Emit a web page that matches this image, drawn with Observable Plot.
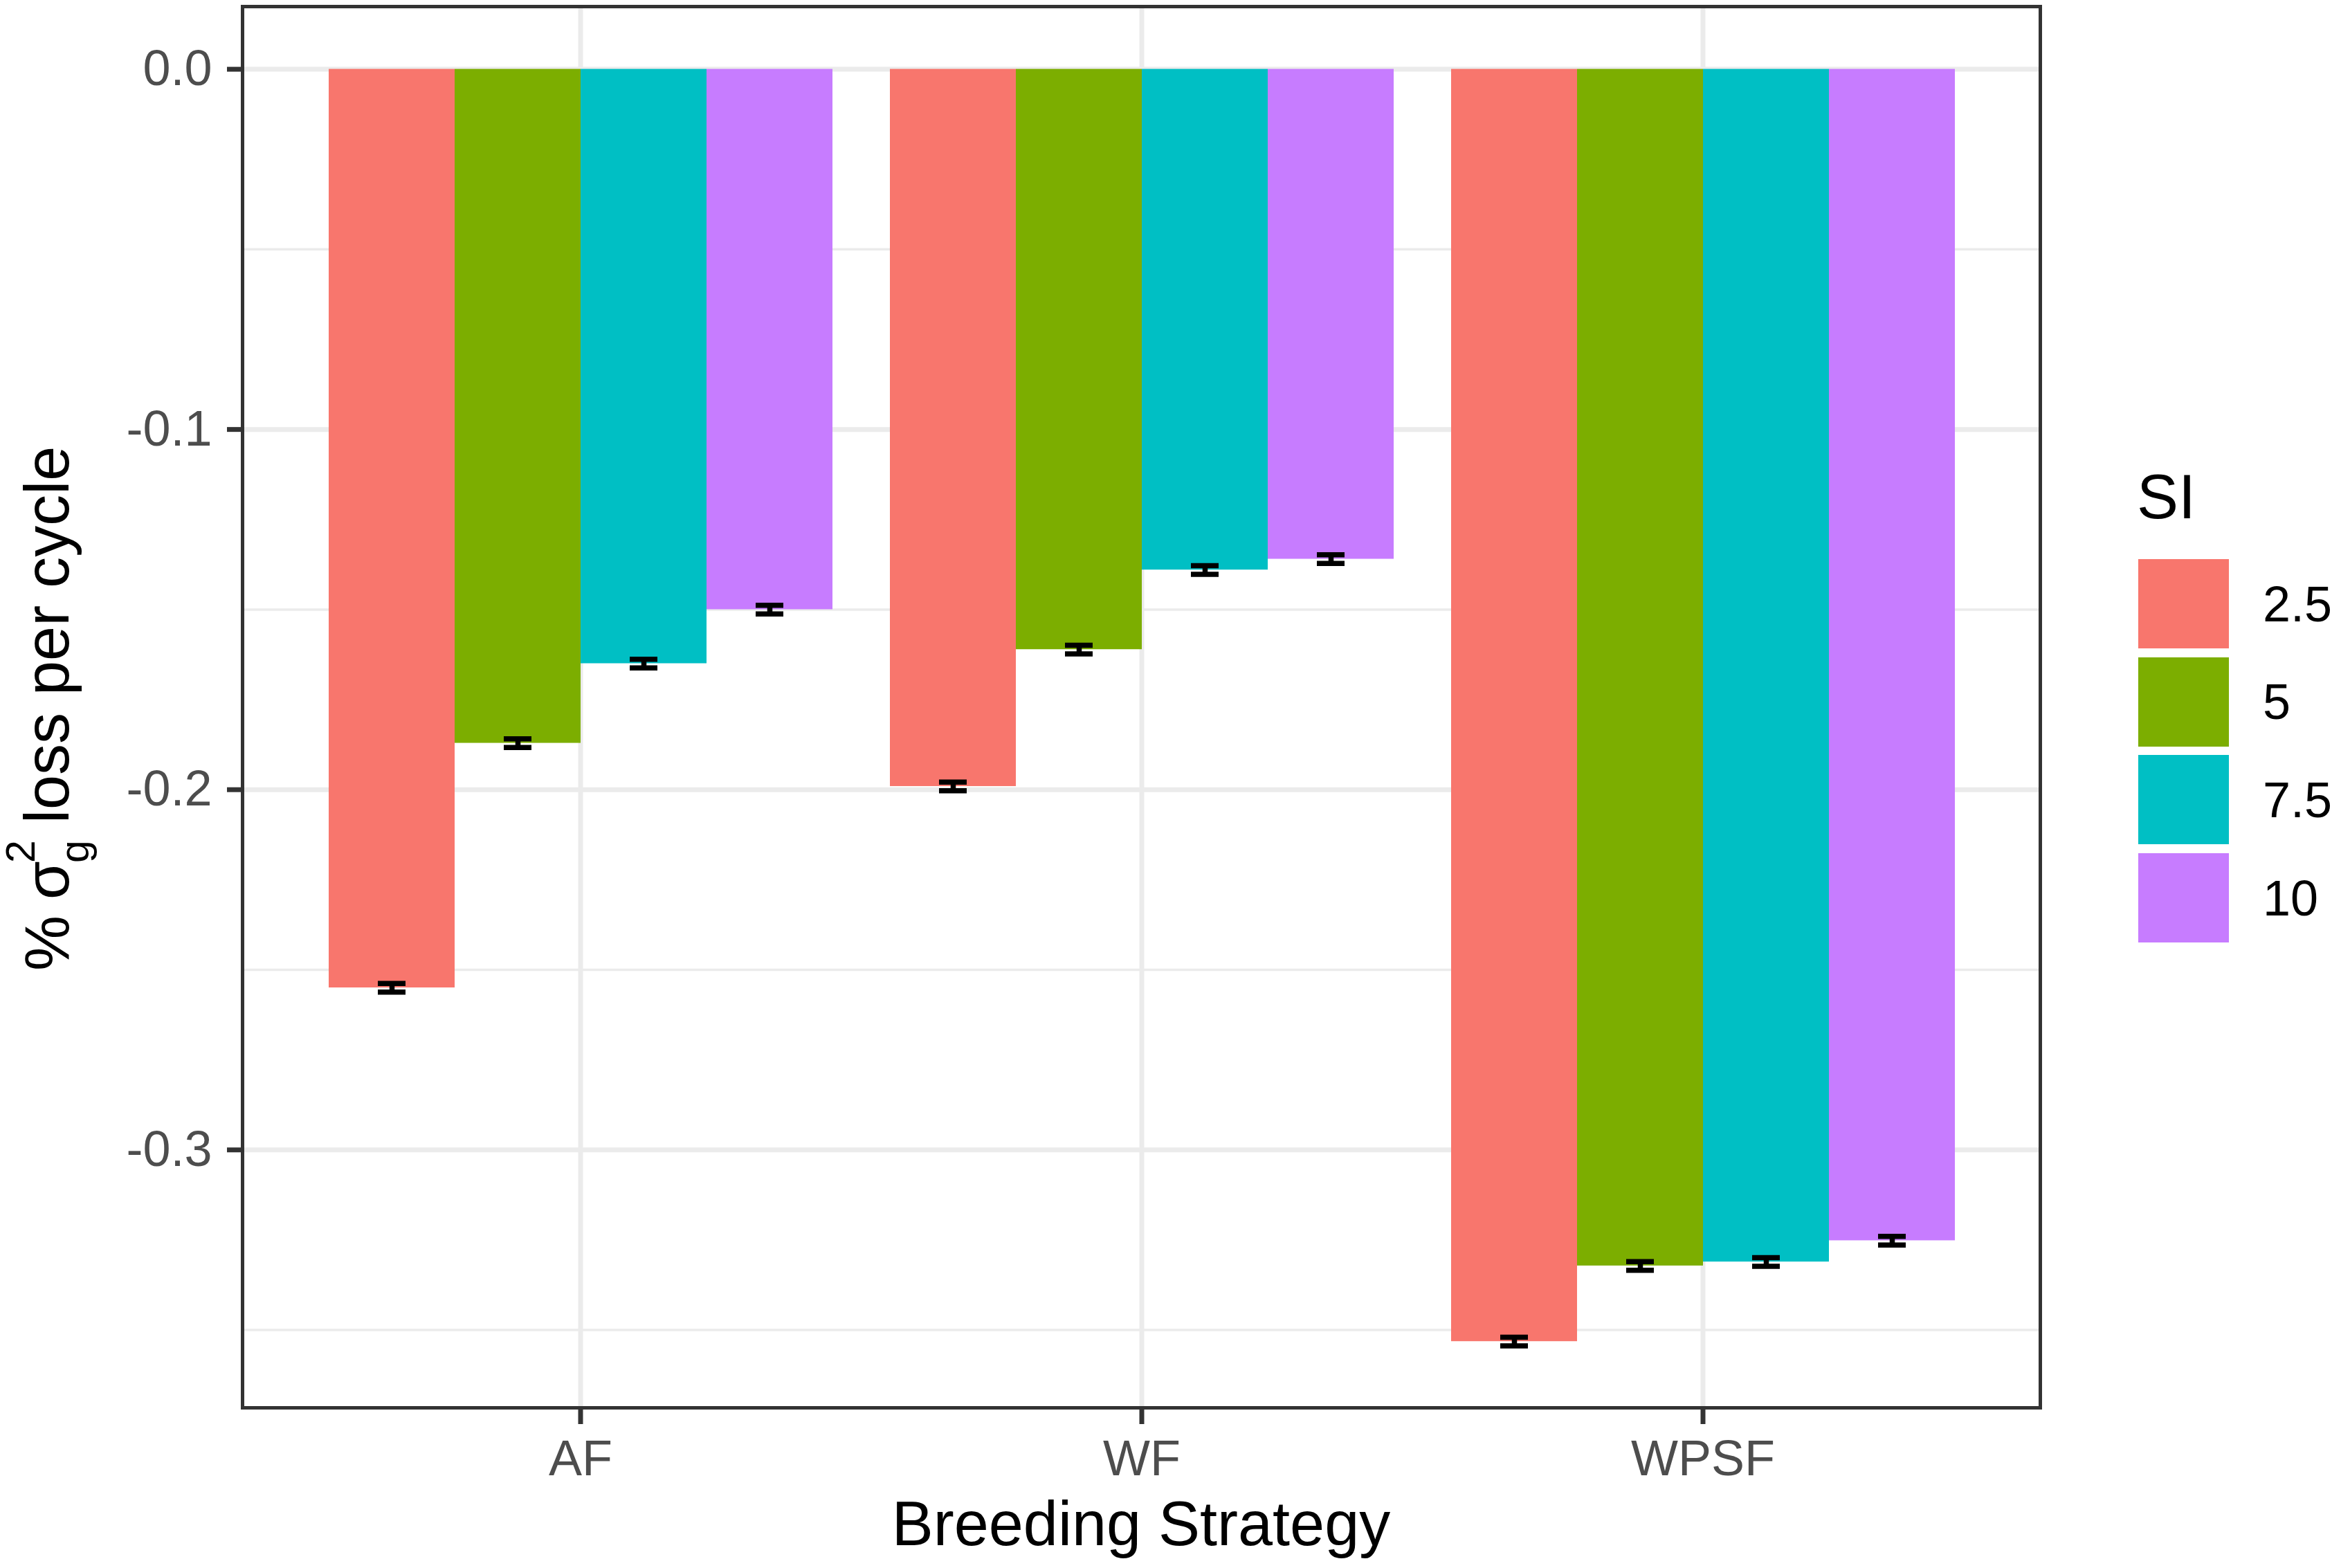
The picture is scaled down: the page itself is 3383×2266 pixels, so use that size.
<!DOCTYPE html>
<html>
<head>
<meta charset="utf-8">
<script src="https://cdn.jsdelivr.net/npm/d3@7"></script>
<script src="https://cdn.jsdelivr.net/npm/@observablehq/plot@0.6"></script>
<style>
html,body{margin:0;padding:0;background:#fff;overflow:hidden;}
#chart{position:relative;width:3383px;height:2266px;font-family:"Liberation Sans",Arial,sans-serif;}
#chart > svg{position:absolute;left:0;top:0;max-width:none;}
#legend-title{position:absolute;left:3088px;top:673px;font-size:90px;line-height:90px;color:#000;white-space:nowrap;}
#legend{position:absolute;left:3090px;top:808px;}
#legend .lg-swatches{font-family:"Liberation Sans",Arial,sans-serif;font-size:72px;margin:0;color:#000;}
#legend .lg-swatch{padding-bottom:0;margin-bottom:12.7px;}
#legend .lg-swatch > svg{margin-right:49px;}
</style>
</head>
<body>
<div id="chart"><div id="legend-title"></div><div id="legend"></div></div>
<script>
// ---- data ----
const strategies = ["AF", "WF", "WPSF"];
const siLevels = ["2.5", "5", "7.5", "10"];
const lossAF   = [-0.2550, -0.1871, -0.1650, -0.1500];
const lossWF   = [-0.1991, -0.1611, -0.1390, -0.1360];
const lossWPSF = [-0.3532, -0.3322, -0.3311, -0.3252];
const seAF   = [0.0012, 0.0012, 0.0012, 0.0012];
const seWF   = [0.0012, 0.0012, 0.0012, 0.0012];
const seWPSF = [0.0012, 0.0012, 0.0012, 0.0012];
const siColors = ["#F8766D", "#7CAE00", "#00BFC4", "#C77CFF"];
const yMajorTicks = [0, -0.1, -0.2, -0.3];
const yMinorTicks = [-0.05, -0.15, -0.25, -0.35];
const yLimits = [-0.3716, 0.0174];
const xTitle = "Breeding Strategy";
const yTitleMain = "%";
const yTitleSigma = "σ";
const yTitleSub = "g";
const yTitleSup = "2";
const yTitleRest = "loss per cycle";
const legendTitle = "SI";

const lossBy = [lossAF, lossWF, lossWPSF];
const seBy = [seAF, seWF, seWPSF];
const rows = [];
strategies.forEach((s, i) => siLevels.forEach((si, j) =>
  rows.push({strategy: s, si, value: lossBy[i][j], se: seBy[i][j]})));

// ---- layout ----
const W = 3383, H = 2266;
const M = {top: 9, right: 435, bottom: 232, left: 350};
const dims = {width: W, height: H, marginTop: M.top, marginRight: M.right, marginBottom: M.bottom, marginLeft: M.left};
const font = '"Liberation Sans", Arial, sans-serif';
const grid = "#EBEBEB";

// background: panel, grid, axes
const bg = Plot.plot({
  ...dims,
  style: {fontFamily: font, background: "white", overflow: "visible"},
  x: {type: "band", domain: strategies, paddingInner: 0, paddingOuter: 0.1, axis: null},
  y: {domain: yLimits, axis: null},
  marks: [
    Plot.ruleY(yMinorTicks, {stroke: grid, strokeWidth: 3.5}),
    Plot.ruleY(yMajorTicks, {stroke: grid, strokeWidth: 7}),
    Plot.ruleX(strategies, {x: d => d, stroke: grid, strokeWidth: 7}),
    Plot.axisY(yMajorTicks, {tickSize: 22, tickPadding: 22, tickFormat: d => d.toFixed(1),
      stroke: "#333333", fill: "#4D4D4D", strokeWidth: 7, fontSize: 72, label: null}),
    Plot.axisX(strategies, {tickSize: 24, tickPadding: 22,
      stroke: "#333333", fill: "#4D4D4D", strokeWidth: 7, fontSize: 72, label: null})
  ]
});

// foreground: dodged bars and error bars
const fg = Plot.plot({
  ...dims,
  style: {fontFamily: font, background: "transparent", overflow: "visible"},
  fx: {domain: strategies, paddingInner: 0, paddingOuter: 0.1, axis: null, label: null},
  x: {domain: siLevels, paddingInner: 0, paddingOuter: 0.2222, axis: null},
  y: {domain: yLimits, axis: null},
  color: {domain: siLevels, range: siColors},
  marks: [
    Plot.barY(rows, {fx: "strategy", x: "si", y: "value", fill: "si"}),
    Plot.ruleX(rows, {fx: "strategy", x: "si", y1: d => d.value - d.se, y2: d => d.value + d.se, stroke: "#000", strokeWidth: 7.5}),
    Plot.tickY(rows, {fx: "strategy", x: "si", y: d => d.value - d.se, stroke: "#000", strokeWidth: 7.5, insetLeft: 71, insetRight: 71}),
    Plot.tickY(rows, {fx: "strategy", x: "si", y: d => d.value + d.se, stroke: "#000", strokeWidth: 7.5, insetLeft: 71, insetRight: 71})
  ]
});

// frame on top
const frame = Plot.plot({
  ...dims,
  style: {background: "transparent", overflow: "visible"},
  marks: [Plot.frame({stroke: "#333333", strokeWidth: 5})]
});

const chart = document.getElementById("chart");
chart.insertBefore(frame, chart.firstChild);
chart.insertBefore(fg, chart.firstChild);
chart.insertBefore(bg, chart.firstChild);

// axis titles
const sbg = d3.select(bg);
sbg.append("text")
  .attr("x", (M.left + W - M.right) / 2).attr("y", 2233)
  .attr("text-anchor", "middle").attr("font-size", 90).attr("fill", "#000")
  .attr("font-family", font).text(xTitle);

// y title (rotated): local x = -screenY, local y = screenX
const yt = sbg.append("text")
  .attr("transform", "rotate(-90)")
  .attr("text-anchor", "start").attr("font-size", 90).attr("fill", "#000")
  .attr("font-family", font);
yt.append("tspan").attr("x", -1403).attr("y", 99).text(yTitleMain);
yt.append("tspan").attr("x", -1300).attr("y", 99).text(yTitleSigma);
yt.append("tspan").attr("x", -1247).attr("y", 128).attr("font-size", 59).text(yTitleSub);
yt.append("tspan").attr("x", -1247).attr("y", 50).attr("font-size", 59).text(yTitleSup);
yt.append("tspan").attr("x", -1190).attr("y", 99).text(yTitleRest);

// legend
document.getElementById("legend-title").textContent = legendTitle;
document.getElementById("legend").append(
  fg.legend("color", {legend: "swatches", columns: 1, swatchWidth: 131, swatchHeight: 129, className: "lg"})
);
</script>
</body>
</html>
